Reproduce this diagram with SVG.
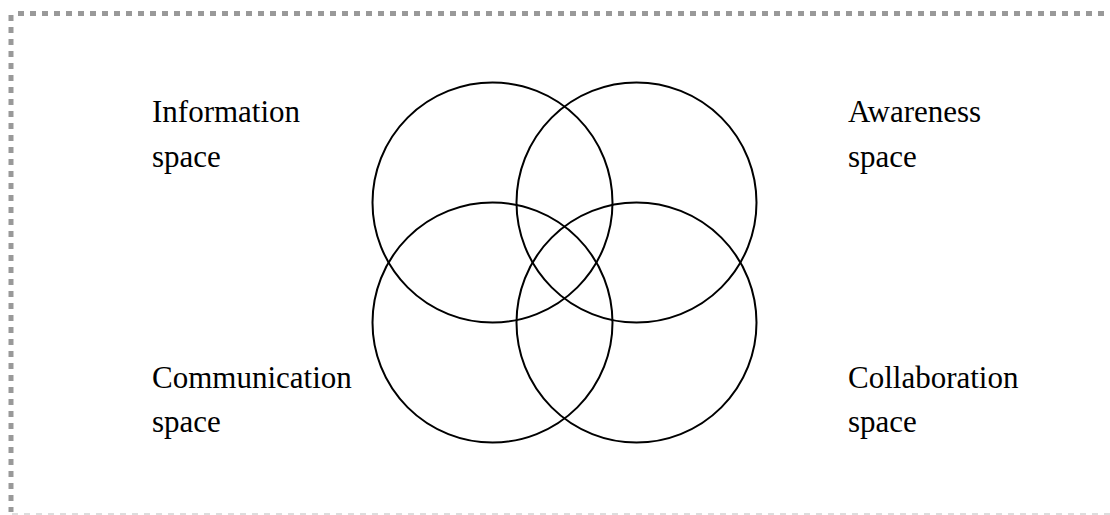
<svg xmlns="http://www.w3.org/2000/svg" width="1110" height="515" viewBox="0 0 1110 515">
<style>
.c{fill:none;stroke:#000;stroke-width:2}
.t{font-family:"Liberation Serif","Times New Roman",serif;font-size:31px;fill:#000}
</style>
<rect width="1110" height="515" fill="#fff"/>
<g id="frame">
<line x1="18" y1="13.5" x2="1110" y2="13.5" stroke="#999" stroke-width="5" stroke-dasharray="6 6"/>
<line x1="11" y1="15" x2="11" y2="512" stroke="#999" stroke-width="5" stroke-dasharray="6 6"/>
<line x1="12" y1="514" x2="1110" y2="514" stroke="#ddd" stroke-width="2" stroke-dasharray="6 6"/>
</g>
<g id="information">
<circle class="c" cx="492.5" cy="202.5" r="120"/>
<text class="t" x="152" y="122">Information</text>
<text class="t" x="152" y="167">space</text>
</g>
<g id="awareness">
<circle class="c" cx="636.5" cy="202.5" r="120"/>
<text class="t" x="848" y="122">Awareness</text>
<text class="t" x="848" y="167">space</text>
</g>
<g id="communication">
<circle class="c" cx="492.5" cy="322.5" r="120"/>
<text class="t" x="152" y="388">Communication</text>
<text class="t" x="152" y="432">space</text>
</g>
<g id="collaboration">
<circle class="c" cx="636.5" cy="322.5" r="120"/>
<text class="t" x="848" y="388">Collaboration</text>
<text class="t" x="848" y="432">space</text>
</g>
<g id="connectors"/>
</svg>
